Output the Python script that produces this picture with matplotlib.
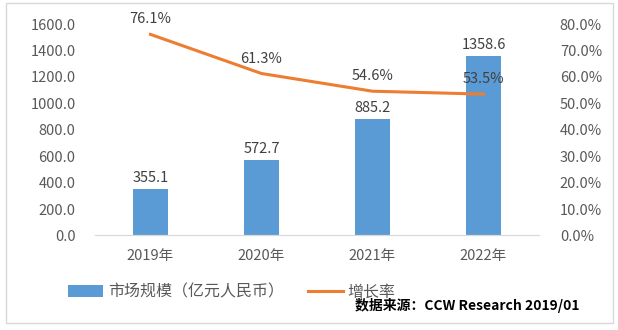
import numpy as np
import matplotlib.pyplot as plt
from matplotlib.patches import Rectangle

plt.rcParams['font.family'] = ['Noto Sans CJK SC', 'DejaVu Sans']

# data
years = ['2019年', '2020年', '2021年', '2022年']
market = [355.1, 572.7, 885.2, 1358.6]  # 亿元人民币
growth = [76.1, 61.3, 54.6, 53.5]  # %

grey = '#595959'
blue = '#5B9BD5'
orange = '#ED7D31'

fig = plt.figure(figsize=(6.18, 3.30), dpi=100)
ax = fig.add_axes([0.1537, 0.2864, 0.7185, 0.6406])
ax2 = ax.twinx()

x = np.arange(len(years))
bars = ax.bar(x, market, width=0.315, color=blue, label='市场规模（亿元人民币）', zorder=2)
ax.set_xlim(-0.5, 3.5)
ax.set_ylim(0, 1600)
ax.set_yticks(np.arange(0, 1601, 200))
ax.set_yticklabels([f'{v:.1f}' for v in np.arange(0, 1601, 200)])
ax.set_xticks(x)
ax.set_xticklabels(years)

for xi, v in zip(x, market):
    ax.text(xi, v + 30, f'{v:.1f}', ha='center', va='bottom', fontsize=10.5, color='#404040')

line, = ax2.plot(x, growth, color=orange, lw=2.2, label='增长率', zorder=3)
ax2.set_ylim(0, 80)
ax2.set_yticks(np.arange(0, 81, 10))
ax2.set_yticklabels([f'{v:.1f}%' for v in np.arange(0, 81, 10)])
for xi, v in zip(x, growth):
    ax2.text(xi, v + 3, f'{v:.1f}%', ha='center', va='bottom', fontsize=10.5, color='#404040')

for a in (ax, ax2):
    for s in ['top', 'left', 'right']:
        a.spines[s].set_visible(False)
    a.spines['bottom'].set_color('#D9D9D9')
    a.tick_params(length=0, labelsize=10.5, colors=grey)
ax.tick_params(axis='y', pad=14)
ax.tick_params(axis='x', pad=10)
ax2.tick_params(axis='y', pad=15)

fig.legend([bars, line], ['市场规模（亿元人民币）', '增长率'], loc='center',
           bbox_to_anchor=(0.375, 0.115), ncol=2, frameon=False, fontsize=11.5,
           labelcolor=grey, handlelength=2.2, handletextpad=0.3, columnspacing=1.5)

fig.text(0.574, 0.075, '数据来源：CCW Research 2019/01', fontsize=10, fontweight='bold',
         color='black', ha='left', va='center')

# outer border
fig.patches.append(Rectangle((6 / 618, 1 - 323 / 330), 607 / 618, 320 / 330,
                             transform=fig.transFigure, fill=False, ec='#D9D9D9', lw=1))

plt.savefig('out.png', dpi=100)
